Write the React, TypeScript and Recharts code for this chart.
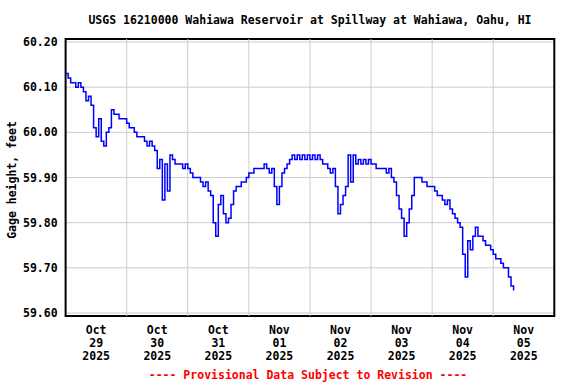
import {
  LineChart,
  Line,
  CartesianGrid,
  XAxis,
  YAxis,
  ReferenceLine,
  ReferenceArea,
} from "recharts";

// hourly gage height readings, starting Oct 29 2025 00:00
const gageFeet = [
  60.13, 60.12, 60.11, 60.11, 60.1, 60.11, 60.1, 60.09, 60.07, 60.08,
  60.06, 60.01, 59.99, 60.03, 59.98, 59.97, 60.0, 60.01, 60.05, 60.04,
  60.04, 60.03, 60.03, 60.03, 60.02, 60.01, 60.01, 60.0, 59.99, 59.99,
  59.99, 59.98, 59.97, 59.98, 59.97, 59.96, 59.92, 59.94, 59.85, 59.93,
  59.87, 59.95, 59.94, 59.93, 59.93, 59.93, 59.92, 59.93, 59.92, 59.91,
  59.9, 59.9, 59.9, 59.89, 59.88, 59.89, 59.87, 59.86, 59.8, 59.77,
  59.84, 59.86, 59.82, 59.8, 59.81, 59.84, 59.87, 59.88, 59.88, 59.89,
  59.89, 59.9, 59.91, 59.91, 59.92, 59.92, 59.92, 59.92, 59.93, 59.92,
  59.91, 59.92, 59.88, 59.84, 59.88, 59.91, 59.92, 59.93, 59.94, 59.95,
  59.94, 59.95, 59.94, 59.95, 59.94, 59.95, 59.94, 59.95, 59.94, 59.95,
  59.94, 59.93, 59.93, 59.92, 59.91, 59.92, 59.88, 59.82, 59.84, 59.86,
  59.88, 59.95, 59.89, 59.95, 59.93, 59.94, 59.93, 59.94, 59.93, 59.94,
  59.93, 59.93, 59.92, 59.92, 59.92, 59.92, 59.91, 59.92, 59.9, 59.89,
  59.86, 59.83, 59.81, 59.77, 59.8, 59.83, 59.86, 59.9, 59.9, 59.9,
  59.89, 59.89, 59.88, 59.88, 59.88, 59.87, 59.86, 59.86, 59.85, 59.84,
  59.85, 59.83, 59.82, 59.81, 59.8, 59.79, 59.73, 59.68, 59.76, 59.74,
  59.77, 59.79, 59.77, 59.77, 59.76, 59.75, 59.75, 59.74, 59.73, 59.72,
  59.72, 59.71, 59.7, 59.7, 59.68, 59.66, 59.65,
];

const dayMonths = ["Oct", "Oct", "Oct", "Nov", "Nov", "Nov", "Nov", "Nov"];
const dayNumbers = ["29", "30", "31", "01", "02", "03", "04", "05"];
const dayYears = ["2025", "2025", "2025", "2025", "2025", "2025", "2025", "2025"];
const dayLabelHours = [12, 36, 60, 84, 108, 132, 156, 180];
const midnightHours = [24, 48, 72, 96, 120, 144, 168];
const gageTicks = [59.6, 59.7, 59.8, 59.9, 60.0, 60.1, 60.2];

const hourDomain = [0, 192];
const feetDomain = [59.5934, 60.2066];

const chartData = gageFeet.map((feet, hour) => ({ hour, feet }));

const FONT = '"DejaVu Sans Mono", monospace';

function DayTick({ x, y, payload }: any) {
  const i = dayLabelHours.indexOf(payload.value);
  if (i < 0) return null;
  return (
    <text
      x={x}
      y={y}
      textAnchor="middle"
      fontFamily={FONT}
      fontWeight="bold"
      fontSize={11.5}
      fill="#000"
    >
      <tspan x={x} dy={18}>
        {dayMonths[i]}
      </tspan>
      <tspan x={x} dy={12.8}>
        {dayNumbers[i]}
      </tspan>
      <tspan x={x} dy={12.8}>
        {dayYears[i]}
      </tspan>
    </text>
  );
}

export default function App() {
  return (
    <div
      style={{
        position: "absolute",
        left: 0,
        top: 0,
        width: 576,
        height: 384,
        background: "#fff",
      }}
    >
      <LineChart
        width={576}
        height={384}
        data={chartData}
        margin={{ top: 39, right: 21.7, bottom: 0, left: 0 }}
      >
        <CartesianGrid vertical={false} stroke="#cccccc" />

        {midnightHours.map((h) => (
          <ReferenceLine key={h} x={h} stroke="#cccccc" />
        ))}

        <XAxis
          type="number"
          dataKey="hour"
          domain={hourDomain}
          ticks={dayLabelHours}
          interval={0}
          tick={<DayTick />}
          tickLine={false}
          axisLine={false}
          tickSize={0}
          tickMargin={0}
          height={68}
          allowDataOverflow
        />

        <YAxis
          type="number"
          domain={feetDomain}
          ticks={gageTicks}
          interval={0}
          tickFormatter={(v: number) => v.toFixed(2)}
          width={65.6}
          tickLine={false}
          axisLine={false}
          tickSize={0}
          tickMargin={8}
          tick={{
            fontFamily: FONT,
            fontWeight: "bold",
            fontSize: 11.5,
            fill: "#000",
          }}
          allowDataOverflow
        />

        <ReferenceArea
          x1={hourDomain[0]}
          x2={hourDomain[1]}
          y1={feetDomain[0]}
          y2={feetDomain[1]}
          fill="none"
          stroke="#000"
          strokeWidth={2}
        />

        <Line
          type="stepAfter"
          dataKey="feet"
          stroke="#0000ff"
          strokeWidth={1.5}
          dot={false}
          isAnimationActive={false}
        />
      </LineChart>

      <svg
        width={576}
        height={384}
        style={{ position: "absolute", left: 0, top: 0, pointerEvents: "none" }}
        fontFamily={FONT}
        fontWeight="bold"
        fontSize={11.5}
      >
        <text x={310} y={24} textAnchor="middle" fill="#000">
          USGS 16210000 Wahiawa Reservoir at Spillway at Wahiawa, Oahu, HI
        </text>
        <text
          x={11.5}
          y={180}
          textAnchor="middle"
          dominantBaseline="central"
          transform="rotate(-90 11.5 180)"
          fill="#000"
        >
          Gage height, feet
        </text>
        <text x={308} y={378.5} textAnchor="middle" fill="#ff0000">
          ---- Provisional Data Subject to Revision ----
        </text>
      </svg>
    </div>
  );
}
